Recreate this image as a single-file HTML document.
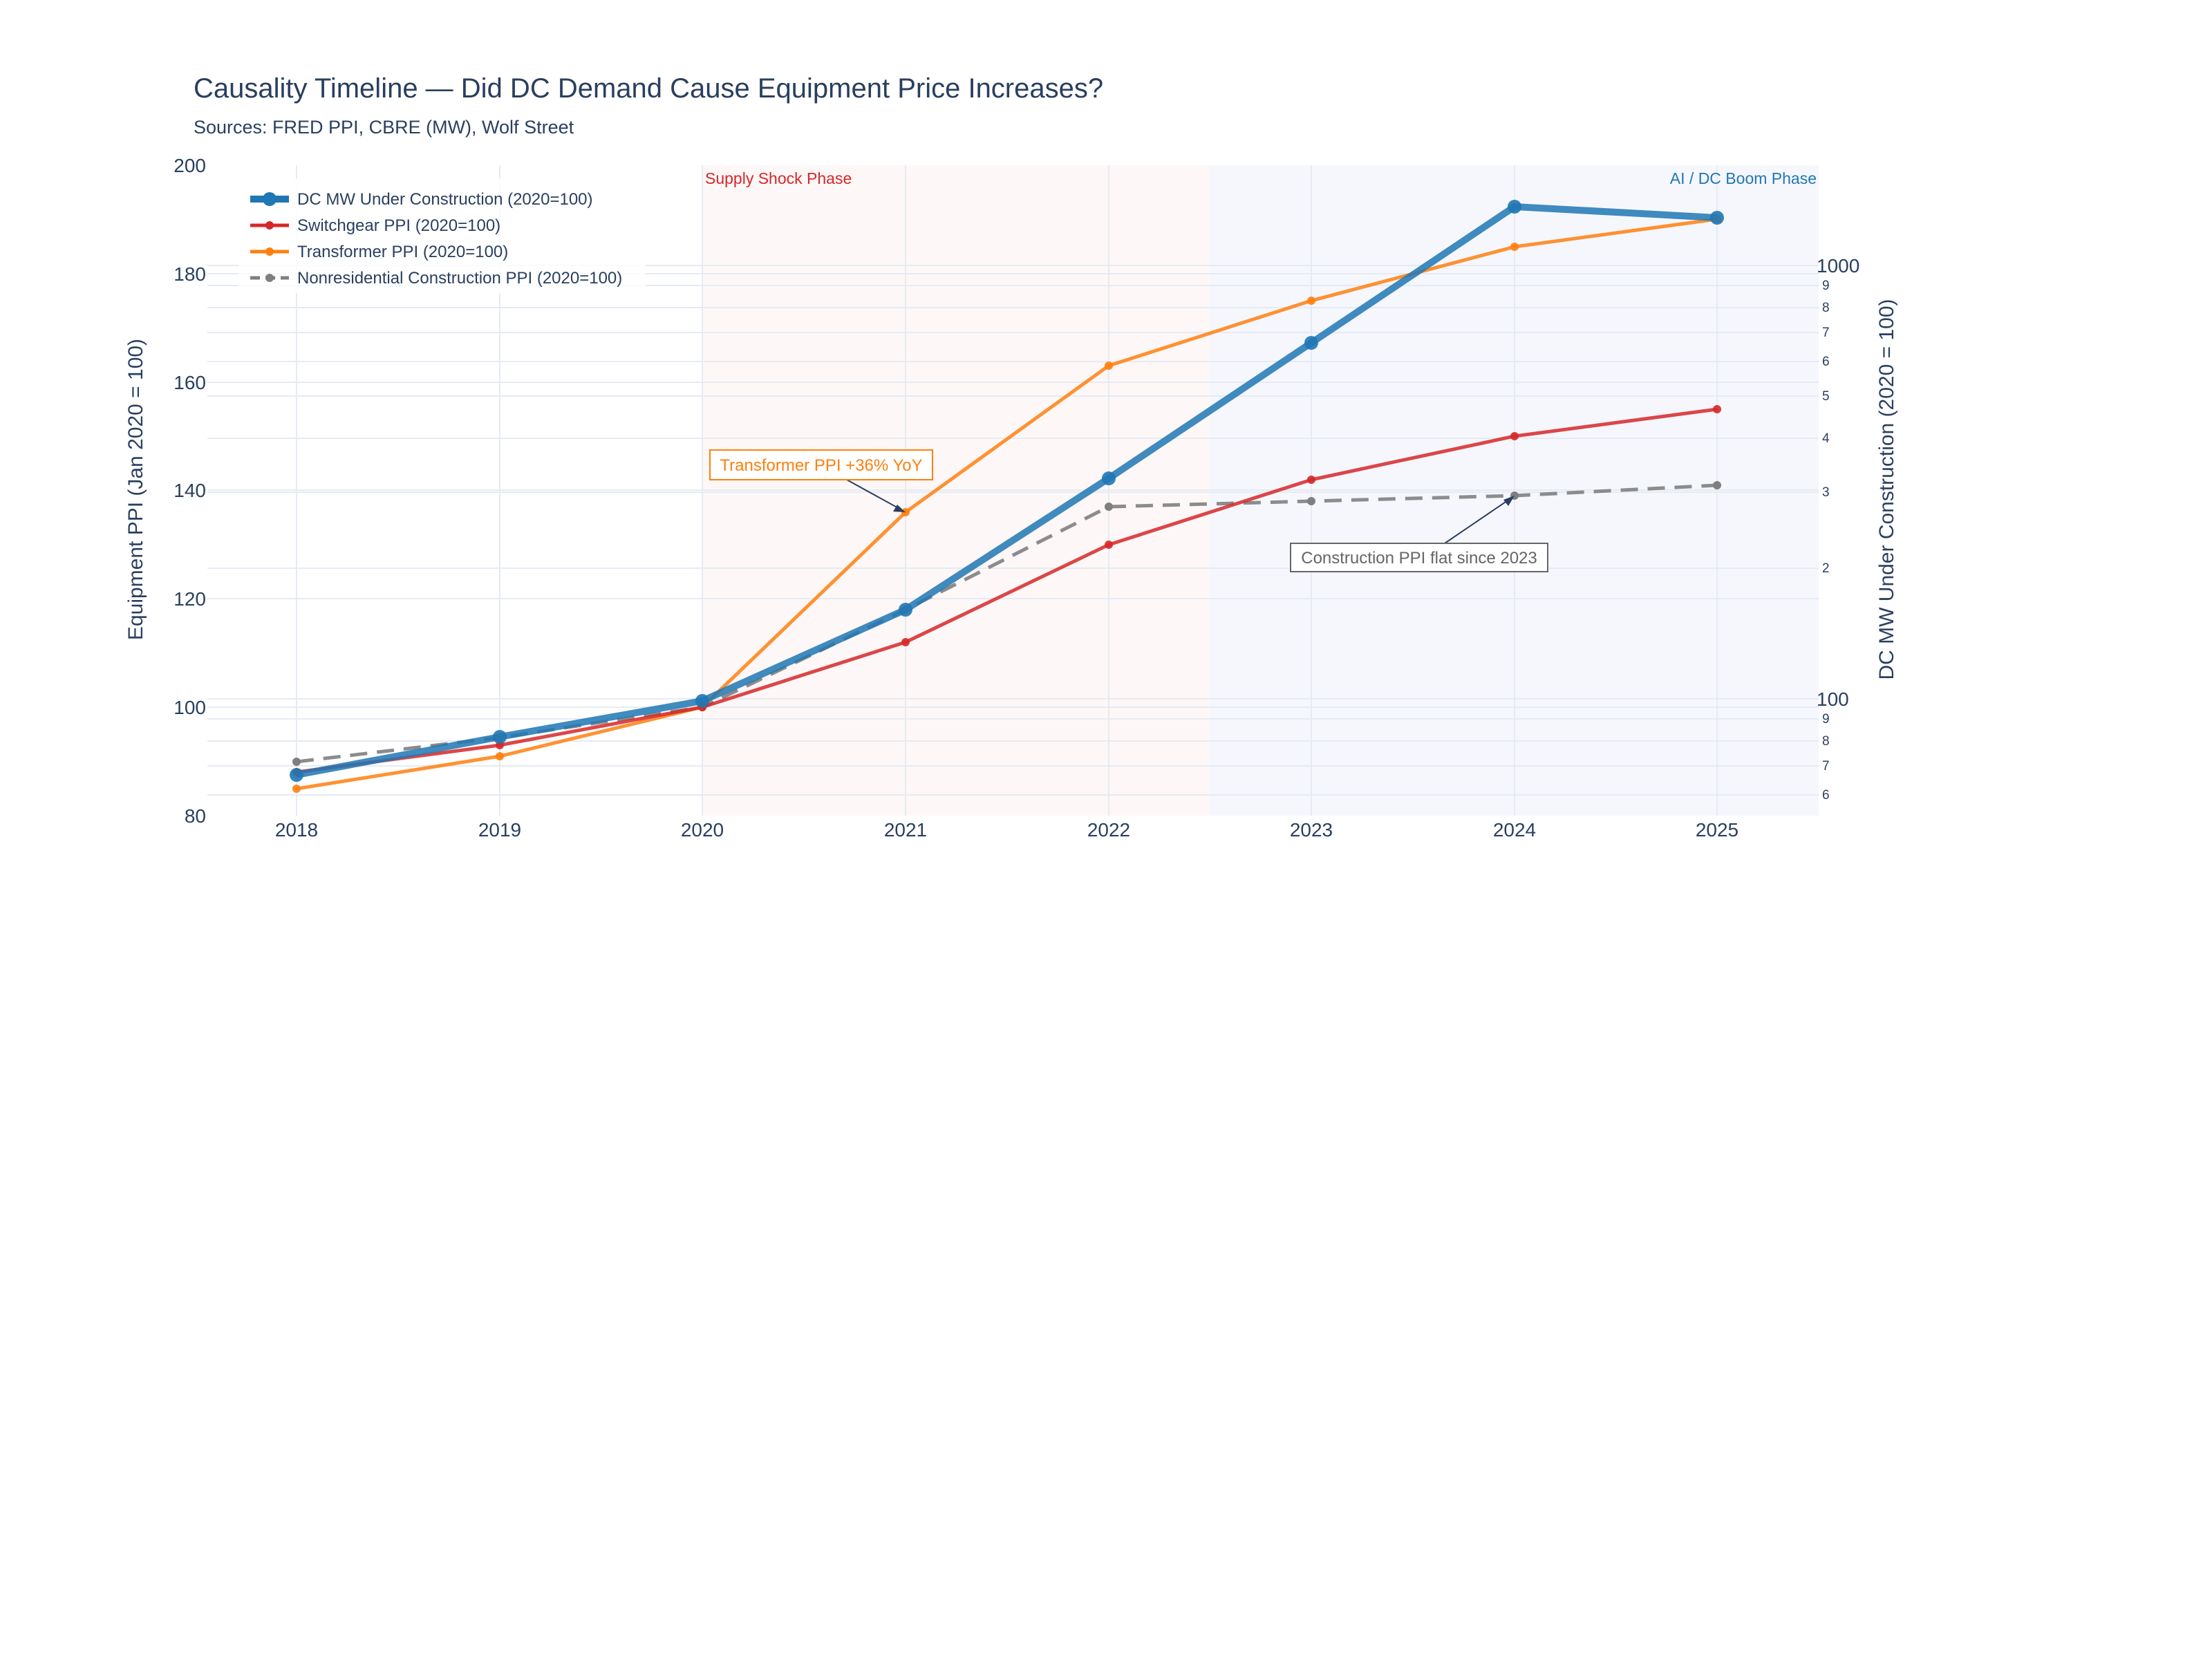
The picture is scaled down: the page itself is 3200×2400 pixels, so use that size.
<!DOCTYPE html>
<html><head><meta charset="utf-8"><style>
html,body{margin:0;padding:0;background:#fff;}
svg{display:block;font-family:"Liberation Sans",sans-serif;}
</style></head><body>
<svg width="3200" height="2400" viewBox="0 0 3200 2400" xmlns="http://www.w3.org/2000/svg">
<rect x="0" y="0" width="3200" height="2400" fill="#fff"/>
<rect x="1016" y="239" width="734" height="941" fill="#d62728" fill-opacity="0.04"/>
<rect x="1750" y="239" width="881" height="941" fill="#1f3fd4" fill-opacity="0.045"/>
<g stroke="#e6ebf3" stroke-width="2">
<line x1="429" y1="239" x2="429" y2="1180"/><line x1="723" y1="239" x2="723" y2="1180"/>
<line x1="1016" y1="239" x2="1016" y2="1180"/><line x1="1310" y1="239" x2="1310" y2="1180"/>
<line x1="1604" y1="239" x2="1604" y2="1180"/><line x1="1897" y1="239" x2="1897" y2="1180"/>
<line x1="2191" y1="239" x2="2191" y2="1180"/><line x1="2484" y1="239" x2="2484" y2="1180"/>
<line x1="300" y1="396" x2="2631" y2="396"/><line x1="300" y1="553" x2="2631" y2="553"/>
<line x1="300" y1="709" x2="2631" y2="709"/><line x1="300" y1="866" x2="2631" y2="866"/>
<line x1="300" y1="1023" x2="2631" y2="1023"/>
<line x1="300" y1="384" x2="2631" y2="384"/><line x1="300" y1="413" x2="2631" y2="413"/>
<line x1="300" y1="445" x2="2631" y2="445"/><line x1="300" y1="481" x2="2631" y2="481"/>
<line x1="300" y1="523" x2="2631" y2="523"/><line x1="300" y1="573" x2="2631" y2="573"/>
<line x1="300" y1="634" x2="2631" y2="634"/><line x1="300" y1="712" x2="2631" y2="712"/>
<line x1="300" y1="822" x2="2631" y2="822"/><line x1="300" y1="1011" x2="2631" y2="1011"/>
<line x1="300" y1="1040" x2="2631" y2="1040"/><line x1="300" y1="1072" x2="2631" y2="1072"/>
<line x1="300" y1="1108" x2="2631" y2="1108"/><line x1="300" y1="1150" x2="2631" y2="1150"/>
</g>
<text x="1020" y="266" font-size="23" fill="#d62728">Supply Shock Phase</text>
<text x="2628" y="266" font-size="23" fill="#1f77b4" text-anchor="end">AI / DC Boom Phase</text>
<g fill="none" stroke-linejoin="round">
<polyline points="429,1102 723,1067 1016,1023 1310,882 1604,733 1897,725 2191,717 2484,702" stroke="#7f7f7f" stroke-opacity="0.9" stroke-width="5" stroke-dasharray="25,14"/>
<polyline points="429,1141 723,1094 1016,1023 1310,741 1604,529 1897,435 2191,357 2484,317" stroke="#ff7f0e" stroke-opacity="0.85" stroke-width="5"/>
<polyline points="429,1117 723,1078 1016,1023 1310,929 1604,788 1897,694 2191,631 2484,592" stroke="#d62728" stroke-opacity="0.85" stroke-width="5"/>
<polyline points="429,1121 723,1066 1016,1014 1310,882 1604,692 1897,496 2191,299 2484,315" stroke="#1f77b4" stroke-opacity="0.85" stroke-width="10"/>
</g>
<g fill="#7f7f7f"><circle cx="429" cy="1102" r="6"/><circle cx="723" cy="1067" r="6"/><circle cx="1016" cy="1023" r="6"/><circle cx="1310" cy="882" r="6"/><circle cx="1604" cy="733" r="6"/><circle cx="1897" cy="725" r="6"/><circle cx="2191" cy="717" r="6"/><circle cx="2484" cy="702" r="6"/></g>
<g fill="#ff7f0e" fill-opacity="0.9"><circle cx="429" cy="1141" r="6"/><circle cx="723" cy="1094" r="6"/><circle cx="1016" cy="1023" r="6"/><circle cx="1310" cy="741" r="6"/><circle cx="1604" cy="529" r="6"/><circle cx="1897" cy="435" r="6"/><circle cx="2191" cy="357" r="6"/><circle cx="2484" cy="317" r="6"/></g>
<g fill="#d62728" fill-opacity="0.9"><circle cx="429" cy="1117" r="6"/><circle cx="723" cy="1078" r="6"/><circle cx="1016" cy="1023" r="6"/><circle cx="1310" cy="929" r="6"/><circle cx="1604" cy="788" r="6"/><circle cx="1897" cy="694" r="6"/><circle cx="2191" cy="631" r="6"/><circle cx="2484" cy="592" r="6"/></g>
<g fill="#1f77b4" fill-opacity="0.9"><circle cx="429" cy="1121" r="10"/><circle cx="723" cy="1066" r="10"/><circle cx="1016" cy="1014" r="10"/><circle cx="1310" cy="882" r="10"/><circle cx="1604" cy="692" r="10"/><circle cx="1897" cy="496" r="10"/><circle cx="2191" cy="299" r="10"/><circle cx="2484" cy="315" r="10"/></g>
<line x1="1225" y1="694" x2="1305" y2="738" stroke="#2a3f5f" stroke-width="2"/>
<polygon points="1310,741 1292,740 1298,730" fill="#2a3f5f"/>
<rect x="1027" y="651" width="322" height="43" fill="#fff" stroke="#ff7f0e" stroke-width="2"/>
<text x="1188" y="681" font-size="24" fill="#ff7f0e" text-anchor="middle">Transformer PPI +36% YoY</text>
<line x1="2090" y1="786" x2="2187" y2="720" stroke="#2a3f5f" stroke-width="2"/>
<polygon points="2191,717 2182,732 2175,723" fill="#2a3f5f"/>
<rect x="1867" y="786" width="372" height="41" fill="#fff" stroke="#666" stroke-width="2"/>
<text x="2053" y="815" font-size="24" fill="#666" text-anchor="middle">Construction PPI flat since 2023</text>
<rect x="345" y="258" width="589" height="166" fill="#fff" fill-opacity="0.8"/>
<g font-size="24" fill="#2a3f5f">
<line x1="362" y1="288" x2="418" y2="288" stroke="#1f77b4" stroke-width="10"/><circle cx="390" cy="288" r="10" fill="#1f77b4"/>
<text x="430" y="296">DC MW Under Construction (2020=100)</text>
<line x1="362" y1="326" x2="418" y2="326" stroke="#d62728" stroke-width="5"/><circle cx="390" cy="326" r="6" fill="#d62728"/>
<text x="430" y="334">Switchgear PPI (2020=100)</text>
<line x1="362" y1="364" x2="418" y2="364" stroke="#ff7f0e" stroke-width="5"/><circle cx="390" cy="364" r="6" fill="#ff7f0e"/>
<text x="430" y="372">Transformer PPI (2020=100)</text>
<line x1="362" y1="402" x2="418" y2="402" stroke="#7f7f7f" stroke-width="5" stroke-dasharray="14,8"/><circle cx="390" cy="402" r="6" fill="#7f7f7f"/>
<text x="430" y="410">Nonresidential Construction PPI (2020=100)</text>
</g>
<text x="280" y="141" font-size="40" fill="#2a3f5f">Causality Timeline — Did DC Demand Cause Equipment Price Increases?</text>
<text x="280" y="193" font-size="27" fill="#2a3f5f">Sources: FRED PPI, CBRE (MW), Wolf Street</text>
<g font-size="28" fill="#2a3f5f" text-anchor="end">
<text x="298" y="249">200</text><text x="298" y="406">180</text><text x="298" y="563">160</text>
<text x="298" y="719">140</text><text x="298" y="876">120</text><text x="298" y="1033">100</text><text x="298" y="1190">80</text>
</g>
<g font-size="28" fill="#2a3f5f" text-anchor="middle">
<text x="429" y="1210">2018</text><text x="723" y="1210">2019</text><text x="1016" y="1210">2020</text><text x="1310" y="1210">2021</text>
<text x="1604" y="1210">2022</text><text x="1897" y="1210">2023</text><text x="2191" y="1210">2024</text><text x="2484" y="1210">2025</text>
</g>
<g fill="#2a3f5f">
<text x="2628" y="394" font-size="28">1000</text><text x="2628" y="1021" font-size="28">100</text>
<g font-size="19">
<text x="2636" y="419">9</text><text x="2636" y="451">8</text><text x="2636" y="487">7</text><text x="2636" y="529">6</text>
<text x="2636" y="579">5</text><text x="2636" y="640">4</text><text x="2636" y="718">3</text><text x="2636" y="828">2</text>
<text x="2636" y="1046">9</text><text x="2636" y="1078">8</text><text x="2636" y="1114">7</text><text x="2636" y="1156">6</text>
</g>
</g>
<text transform="translate(206,708) rotate(-90)" font-size="30" fill="#2a3f5f" text-anchor="middle">Equipment PPI (Jan 2020 = 100)</text>
<text transform="translate(2739,708) rotate(-90)" font-size="30" fill="#2a3f5f" text-anchor="middle">DC MW Under Construction (2020 = 100)</text>
</svg>
</body></html>
